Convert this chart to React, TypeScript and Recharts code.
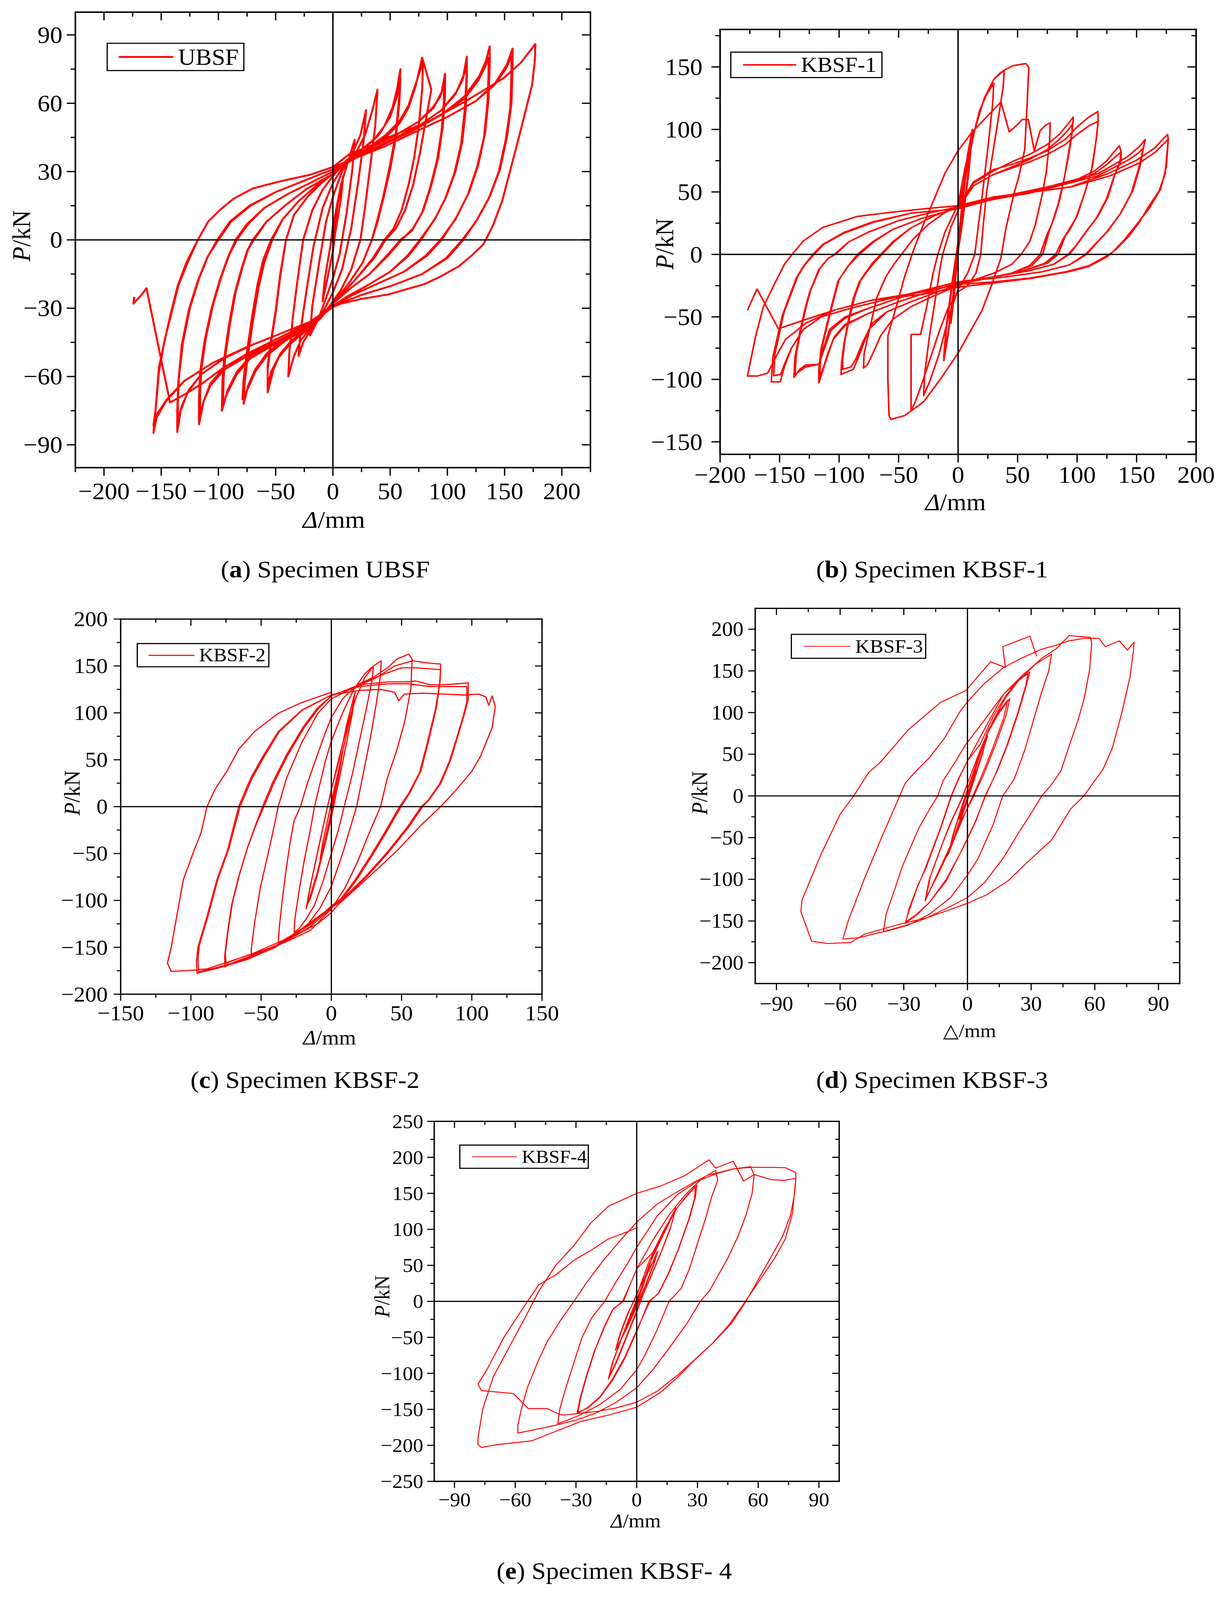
import React from 'react';
import { LineChart, Line, XAxis, YAxis, ReferenceLine, Legend } from 'recharts';

type Pt = [number, number];

// ---------------- (a) UBSF ----------------
const ubsfSmall: Pt[] = [
  [0,0],[4,15],[9,28],[7,18],[2,3],[0,-5],[-4,-15],[-9,-27],[-7,-17],[-2,-2],[0,6],
  [7,24],[13,34],[19,44],[17,31],[12,12],[6,-6],[0,-17],[-7,-27],[-13,-35],[-20,-42],[-18,-29],[-12,-10],[-6,8],[0,19],
  [8,30],[16,37],[24,46],[29,57],[27,44],[22,25],[16,5],[8,-13],[0,-23],[-10,-33],[-20,-40],[-26,-45],[-30,-51],[-28,-39],[-23,-22],[-17,-3],[-9,14],[0,25],
];
const ubsf40: Pt[] = [
  [10,33],[20,38],[28,46],[34,56],[39,66],[37,50],[32,30],[28,14],[24,0],[16,-13],[7,-22],[0,-27],[-10,-34],[-20,-39],[-28,-44],[-34,-51],[-39,-60],[-38,-49],[-35,-34],[-31,-18],[-26,0],[-18,13],[-9,22],[0,28],
];
const ubsf60: Pt[] = [
  [12,35],[24,39],[36,44],[45,50],[52,58],[56,66],[59,75],[58,63],[55,47],[50,33],[44,19],[39,9],[34,0],[26,-10],[14,-19],[0,-28],[-12,-35],[-24,-40],[-36,-44],[-46,-50],[-52,-57],[-57,-67],[-57,-57],[-54,-45],[-50,-32],[-46,-16],[-41,0],[-34,11],[-22,19],[-10,25],[0,29],
];
const ubsf60b: Pt[] = [
  [12,35],[26,40],[40,46],[50,54],[56,63],[59,71],[58,60],[55,45],[50,31],[44,18],[39,8],[34,0],[26,-10],[14,-19],[0,-28],[-12,-35],[-26,-41],[-38,-46],[-48,-52],[-54,-58],[-57,-64],[-57,-55],[-54,-44],[-50,-31],[-46,-15],[-41,0],[-34,11],[-22,19],[-10,25],[0,29],
];
const ubsf80: Pt[] = [
  [14,35],[30,40],[46,45],[58,51],[66,58],[72,67],[78,80],[86,66],[81,52],[76,38],[70,24],[63,13],[55,5],[46,0],[36,-8],[22,-16],[8,-24],[0,-28],[-14,-35],[-30,-40],[-46,-45],[-58,-50],[-68,-57],[-74,-64],[-78,-72],[-77,-62],[-74,-50],[-70,-36],[-65,-21],[-60,-10],[-53,0],[-44,9],[-30,17],[-14,24],[0,29],
];
const ubsf80b: Pt[] = [
  [14,35],[30,40],[46,46],[58,52],[66,59],[72,68],[78.7,78],[78,66],[75,50],[71,36],[66,24],[60,13],[53,5],[45,0],[35,-8],[22,-16],[8,-24],[0,-28],[-14,-35],[-30,-40],[-46,-46],[-58,-51],[-68,-58],[-74,-65],[-79,-70],[-78,-61],[-75,-49],[-71,-35],[-66,-20],[-61,-9],[-54,0],[-44,9],[-30,17],[-14,24],[0,29],
];
const ubsf100: Pt[] = [
  [15,35],[35,41],[55,46],[75,52],[88,58],[95,65],[98,73],[98,64],[96,50],[92,36],[86,24],[79,13],[70,5],[60,0],[48,-7],[32,-15],[16,-21],[0,-28],[-15,-35],[-35,-41],[-55,-46],[-72,-51],[-84,-58],[-92,-66],[-97,-75],[-96.5,-62],[-95,-52],[-91,-38],[-86,-24],[-80,-13],[-75,-5],[-70,0],[-58,8],[-42,15],[-24,22],[0,29],
];
const ubsf100b: Pt[] = [
  [15,35],[35,41],[55,46],[75,52],[87,58],[94,63],[97,69],[97,61],[95,48],[91,35],[85,23],[78,12],[69,4],[59,0],[47,-7],[32,-15],[16,-21],[0,-28],[-15,-35],[-35,-41],[-55,-47],[-72,-52],[-84,-59],[-92,-67],[-96,-72],[-95.5,-61],[-94,-51],[-90,-37],[-85,-23],[-79,-12],[-74,-4],[-69,0],[-58,8],[-42,15],[-24,22],[0,29],
];
const ubsf120: Pt[] = [
  [15,35],[35,40],[55,45],[75,50],[95,57],[108,65],[114,72],[117,80.5],[117,71],[116,57],[113,43],[107,30],[99,19],[90,10],[77,0],[66,-7],[50,-14],[30,-20],[12,-25],[0,-29],[-15,-35],[-35,-40],[-55,-45],[-75,-50],[-95,-56],[-107,-63],[-113,-71],[-117,-81],[-117,-70],[-116,-58],[-112,-44],[-106,-30],[-99,-18],[-92,-8],[-85,0],[-75,7],[-60,14],[-40,20],[-20,25],[0,30],
];
const ubsf120b: Pt[] = [
  [15,35],[35,40],[55,45],[75,50],[95,57],[107,64],[113,70],[117,77],[116.5,69],[115,56],[112,42],[106,29],[98,18],[89,9],[76,0],[65,-7],[50,-14],[30,-20],[12,-25],[0,-29],[-15,-35],[-35,-40],[-55,-45],[-75,-51],[-95,-57],[-107,-64],[-113,-71],[-116,-77],[-116,-68],[-115,-57],[-111,-43],[-105,-29],[-98,-17],[-91,-7],[-84,0],[-74,7],[-60,14],[-40,20],[-20,25],[0,30],
];
const ubsf140: Pt[] = [
  [20,36],[45,42],[70,48],[95,55],[115,63],[128,72],[134,79],[137,85],[137,77],[136,62],[133,47],[127,33],[119,21],[108,10],[95,0],[82,-7],[62,-14],[40,-19],[18,-24],[0,-29],[-20,-36],[-45,-41],[-70,-46],[-95,-52],[-115,-59],[-127,-67],[-133,-75],[-136,-84.4],[-136,-75],[-135,-62],[-132,-46],[-126,-31],[-118,-18],[-110,-8],[-101,0],[-90,8],[-73,15],[-50,21],[-25,26],[0,31],
];
const ubsf140b: Pt[] = [
  [20,36],[45,42],[70,48],[95,55],[115,62],[127,70],[133,76],[136,80],[136,73],[135,60],[132,45],[126,32],[118,20],[107,9],[94,0],[81,-7],[62,-14],[40,-19],[18,-24],[0,-29],[-20,-36],[-45,-41],[-70,-46],[-95,-52],[-115,-59],[-126,-66],[-132,-73],[-135.5,-79],[-135.5,-72],[-134.5,-60],[-131,-45],[-125,-30],[-117,-17],[-109,-7],[-100,0],[-89,8],[-72,15],[-50,21],[-25,26],[0,31],
];
const ubsf160: Pt[] = [
  [20,36],[45,41],[70,47],[100,54],[125,61],[142,69],[152,77],[157,84],[157,76],[156,60],[152,45],[146,31],[137,19],[126,9],[114,0],[100,-8],[78,-15],[52,-20],[26,-24],[0,-29],[-20,-36],[-45,-41],[-75,-47],[-105,-54],[-130,-62],[-146,-71],[-154,-78],[-156.8,-84.8],[-155.5,-78],[-152,-58],[-147,-44],[-141,-32],[-135,-20],[-127,-10],[-118,0],[-109,8],[-99,13],[-87,18],[-70,22.6],[-47,25.6],[-20,28.6],[0,32],
];
const ubsf160b: Pt[] = [
  [20,36],[45,41],[70,47],[100,54],[125,61],[141,68],[151,75],[156,80.6],[156,73],[155,58],[151,44],[145,30],[136,18],[125,8],[113,0],[99,-8],[78,-15],[52,-20],[26,-24],[0,-29],[-20,-36],[-45,-41],[-75,-47],[-105,-54],[-130,-62],[-145,-70],[-153,-76],[-156.8,-81.5],[-155,-75],[-152,-56],[-146,-42],[-141.5,-32],[-135.5,-20],[-128,-10],[-118,0],[-109,8],[-99,13],[-87,18],[-70,22.6],[-47,25.6],[-20,28.6],[0,32],
];
const ubsf180: Pt[] = [
  [14,37.5],[31,41],[48,45],[82,51.6],[115,60.6],[149,71],[164,77.7],[176.9,86],[176.5,79],[174,68],[169,58],[163,46],[155.6,31.8],[148,17.3],[140,6.5],[133.5,0],[131,-2.2],[120.5,-7.2],[110,-11.6],[94.7,-15.9],[79.5,-19.5],[48,-24],[24,-26],[7,-28],[0,-29.5],[-9.5,-33],[-19.6,-37.6],[-33,-42],[-53,-46.6],[-73.6,-51],[-94,-55.5],[-114,-63],[-128,-67.4],[-142.3,-71.4],[-162.9,-21.2],[-167,-24],[-174.3,-28],[-173.5,-25],
];

// ---------------- (b) KBSF-1 ----------------
const kbsf1Small: Pt[] = [
  [0,0],[3,35],[6,62],[4,40],[0,5],[-3,-30],[-6,-55],[-4,-35],[0,0],
  [4,50],[8,80],[12,100],[9,70],[4,30],[0,5],[-4,-30],[-8,-60],[-12,-82],[-10,-58],[-5,-22],[0,10],
  [5,55],[9,85],[12,98],[9,66],[4,28],[0,2],[-4,-32],[-8,-62],[-12,-85],[-10,-60],[-5,-25],[0,8],
  [6,60],[12,92],[18,115],[24,128],[30,137],[29,120],[25,85],[20,45],[16,15],[14,0],[8,-15],[0,-28],[-8,-50],[-16,-80],[-24,-102],[-29,-113],[-28,-95],[-24,-65],[-19,-35],[-15,-10],[-13,0],[-6,22],[0,35],
];
const kbsf1Mid: Pt[] = [
  [6,62],[14,100],[22,125],[30,140],[35,145],[38.7,147],[38,135],[34,110],[29,80],[24,50],[21,22],[19,0],[15,-15],[8,-25],[0,-30],[-8,-42],[-16,-62],[-24,-85],[-31,-105],[-36,-118],[-39.5,-125],[-39.5,-100],[-39.5,-64],[-31.5,-64],[-26,-40],[-21,-15],[-17,0],[-11,18],[-5,30],[0,40],
  [6,70],[14,100],[22,125],[30,140],[38,147],[46,151],[52,152],[57,152.7],[59.4,149.7],[58,120],[56,84],[51,62],[47,49],[40,20],[36,-3],[28,-25],[20,-45],[10,-62],[0,-79],[-15,-100],[-29,-118],[-45,-129],[-56.5,-132],[-58,-129],[-59,-100],[-59,-65],[-52,-42],[-45,-18],[-38,2],[-30,22],[-22,40],[-11,65],[0,83],[11,97],[22,108],[30,116],[36,122],[43,98],[50,104],[54,108],[59,108],[64,83],[69,99],[73,103],[77.4,105.4],
];
const kbsf1L78: Pt[] = [
  [77,92],[74,65],[70,45],[65,24],[60,10],[53,0],[45,-8],[30,-15],[15,-20],[0,-25],[-20,-33],[-40,-42],[-55,-52],[-65,-65],[-72,-80],[-76,-88],[-79.5,-91],[-79,-80],[-76.6,-69],[-72,-50],[-68.5,-35],[-64,-25],[-60.5,-17.6],[-54,-8],[-47.6,0],[-38,12],[-25,24],[-12,33],[0,39],
];
const kbsf1L97: Pt[] = [
  [13,57],[30,67],[45,74],[60,80],[75,88],[85,96],[92,104],[96.8,109.9],[96,100],[94,88],[90,65],[85.5,44],[81,30],[77,20],[71,0],[62,-9],[45,-15],[25,-19],[0,-24],[-20,-31],[-40,-38],[-60,-46],[-75,-60],[-82,-78],[-88,-92],[-98.4,-96],[-98,-88],[-96,-72],[-92,-52],[-88,-35],[-83,-22],[-78,-15],[-72,-7],[-65,0],[-55,10],[-40,21],[-20,31],[0,38],
  [13,55],[30,64],[45,70],[60,76],[75,84],[85,92],[92,99],[96,104],[95.5,95],[93,80],[89,60],[84,40],[79,25],[74,14],[69,0],[60,-9],[45,-15],[25,-19],[0,-24],[-20,-31],[-40,-38],[-60,-46],[-72,-55],[-80,-70],[-86,-84],[-90,-90],[-97,-92],[-97,-84],[-95,-68],[-91,-50],[-87,-34],[-82,-21],[-76,-13],[-70,-6],[-64,0],[-54,10],[-40,21],[-20,31],[0,38],
];
const kbsf1L118: Pt[] = [
  [13,58],[30,68],[45,72],[60,77],[75,83],[90,92],[100,102],[110,110],[117.4,114.3],[117.7,106.5],[116,91.6],[113,71],[107,51],[100,30.8],[94,20],[90,14.6],[84,0],[75,-7],[55,-13],[30,-18],[0,-23],[-25,-30],[-50,-38],[-75,-47],[-95,-57],[-105,-68],[-110,-82],[-114,-94],[-117,-102.7],[-117,-92],[-115,-75],[-110,-55],[-106,-40],[-101,-21.6],[-93,-10],[-84.7,0],[-72,10],[-55,20],[-30,29],[0,37],
  [13,55],[30,64],[45,69],[60,74],[75,80],[90,88],[100,96],[110,103],[117.7,106.5],[116.5,95],[115,85],[112,67],[106,48],[99,29],[92,18],[88,12],[82,0],[73,-7],[55,-13],[30,-18],[0,-23],[-25,-30],[-50,-38],[-75,-47],[-95,-56],[-104,-66],[-109,-78],[-113,-90],[-116,-98],[-116,-89],[-114,-73],[-109,-53],[-105,-38],[-100,-20],[-92,-9],[-83,0],[-71,10],[-55,20],[-30,29],[0,37],
];
const kbsf1L137: Pt[] = [
  [25,44],[50,49],[75,54],[100,60],[115,67],[125,75],[131,82],[135.5,86.9],[137,82],[137,75],[132,64.6],[125.8,45.7],[117.7,30.8],[106,16],[100,8],[93.5,0],[80,-8],[60,-13],[30,-18],[0,-22],[-25,-28],[-50,-35],[-75,-43],[-95,-50],[-108,-60],[-113,-75],[-117,-88],[-128,-88.5],[-133,-92],[-138,-98.4],[-137,-82],[-133,-62],[-129,-45],[-125,-31],[-117,-12],[-110,-4],[-104,0],[-92,10],[-75,18],[-50,27],[-25,33],[0,38],
  [25,43],[50,48],[75,53],[100,59],[115,65],[125,72],[132,78],[137,82],[136,74],[131,62],[124.5,44],[116.5,29.5],[105,15],[99,7],[92.5,0],[80,-8],[60,-13],[30,-18],[0,-22],[-25,-28],[-50,-35],[-75,-43],[-95,-51],[-107,-61],[-113,-77],[-117,-88],[-128,-90],[-134,-94],[-137,-96],[-136,-80],[-132,-60],[-128,-43],[-124,-29],[-116,-11],[-109,-3],[-103,0],[-92,10],[-75,18],[-50,27],[-25,33],[0,38],
];
const kbsf1L157: Pt[] = [
  [29,45],[60,50],[85,56.5],[117.7,64.6],[142,78],[152,86],[157.3,91.9],[155.6,84.9],[153,71],[146.8,51],[137,33.5],[125.8,18.6],[117.7,10.5],[108,0],[93.5,-8.4],[70,-14],[40,-18],[0,-22],[-30,-29],[-60,-36],[-90,-43],[-115,-50],[-130,-60],[-140,-75],[-146,-90],[-149.5,-102],[-157,-102],[-155.6,-82],[-147.6,-48.6],[-136,-19],[-130,-9.5],[-122,0],[-113.7,8],[-96,17.6],[-71.8,26],[-39.5,33],[0,36.5],
  [29,44],[60,49],[85,55],[117.7,63],[142,75],[150,80],[155.6,84.9],[154,78],[151.5,68],[145.5,49],[136,32],[124.5,17.5],[116.5,9.5],[107,0],[93.5,-8.4],[70,-14],[40,-18],[0,-22],[-30,-29],[-60,-36],[-90,-43],[-115,-50],[-130,-60],[-140,-75],[-146,-88],[-149,-96],[-155,-97],[-154,-80],[-146.5,-47],[-135,-18],[-129,-8.5],[-121,0],[-113,8],[-96,17],[-71.8,25.5],[-39.5,33],[0,36.5],
];
const kbsf1L177: Pt[] = [
  [29,45.7],[61,49.7],[93.5,53.8],[125.8,64.6],[150,75.4],[165,85],[176,96],[176.6,92.3],[174,64.6],[169,51],[159.7,37.6],[153,26.8],[143.5,14.6],[133.9,5.1],[127.4,0],[125.8,-1.6],[109.7,-9.7],[93.5,-13.8],[61.3,-19.2],[29,-23],[1.6,-26],[-30,-32],[-72,-36.5],[-104,-44.6],[-128,-55],[-145,-68],[-152,-80],[-160,-95],[-168.5,-97.3],[-177,-97.3],[-175,-88],[-170,-65],[-163.7,-42],[-155,-25],[-146,-8],[-139.5,0],[-130,10.8],[-113.7,21.6],[-84.7,30.4],[-55.6,33.8],[-23,37],[0,39],
  [30,46],[62,50],[95,54],[128,63],[152,73],[166,82],[176.6,92.3],[175,70],[170,52],[160,36],[150,24],[140,12],[130,2],[127,0],[110,-9],[90,-14],[60,-19],[30,-22],[0,-24],[-30,-30],[-72,-36.5],[-104,-44.6],[-130,-52.7],[-151,-59.5],[-169,-27.7],[-177,-44.6],
];

// ---------------- (c) KBSF-2 ----------------
const kbsf2Small: Pt[] = [
  [0,0],[4,30],[8,58],[6,40],[2,10],[0,-5],[-4,-32],[-8,-56],[-6,-38],[-2,-10],[0,5],
  [5,38],[10,72],[15,105],[17,123],[15,100],[10,62],[5,25],[0,-10],[-5,-40],[-10,-70],[-15,-95],[-18,-109],[-15,-85],[-10,-50],[-5,-15],[0,18],
  [6,52],[11,88],[16.5,120],[14.5,96],[9.5,58],[4.5,22],[0,-12],[-5,-43],[-10,-73],[-14.5,-96],[-17.5,-106],[-14.5,-82],[-9.5,-47],[-4.5,-12],[0,18],
  [6,55],[12,90],[18,118],[24,138],[30,150],[29,135],[25,105],[20,70],[15,35],[10,5],[5,-25],[0,-50],[-6,-80],[-12,-105],[-18,-120],[-23,-130],[-26.5,-134],[-26,-120],[-23,-90],[-19,-55],[-15,-25],[-12,0],[-8,25],[-4,50],[0,70],
];
const kbsf2Mid: Pt[] = [
  [8,100],[16,125],[24,142],[30,150],[35.5,155.5],[35,140],[32,110],[28,75],[24,45],[20,15],[18,0],[14,-20],[8,-50],[0,-85],[-8,-108],[-16,-124],[-26,-137],[-33,-143],[-37.8,-146],[-37,-128],[-35,-100],[-32,-65],[-29,-35],[-26.5,-15],[-22,0],[-17,25],[-10,55],[-4,80],[0,95],
  [8,115],[18.6,130],[30,138],[40,148],[46.8,157.5],[55,162.5],[57.5,157.5],[56.7,126.6],[52.4,91.8],[46.8,61],[39.8,30],[35,0],[27,-28],[18.6,-59],[10,-86],[0,-109],[-15,-132],[-32,-144],[-49,-153.6],[-57,-159],[-57,-152],[-54.7,-124.6],[-50.5,-86],[-43.4,-39.6],[-37.8,0],[-32,30],[-21,68.6],[-9.6,99.5],[0,115],
];
const kbsf2L78: Pt[] = [
  [13,124.6],[32.7,138],[45,150],[58,155.5],[70,153],[77.8,152],[77.5,135],[75,107],[69,68.6],[63.7,37.7],[56,15],[49.6,0],[40,-25],[30,-50],[18,-78],[8,-98],[0,-108],[-15,-128],[-35,-145],[-55,-158],[-68,-165],[-75.8,-171],[-76,-160],[-74,-135],[-71,-105],[-66,-75],[-60,-45],[-54,-20],[-49,0],[-42,25],[-32,55],[-20,85],[-10,105],[0,118],
  [20,130],[35,140],[50,148],[60,148],[70,147],[77.8,146],[77,130],[74,103],[68,66],[62.7,36],[55,14],[48.6,0],[39,-25],[29,-50],[17,-78],[7,-98],[0,-106],[-15,-126],[-35,-143],[-55,-156],[-68,-163],[-75,-167],[-75.5,-157],[-73.5,-132],[-70.5,-103],[-65.5,-73],[-59.5,-43],[-53.5,-19],[-48,0],[-41,25],[-31,55],[-19,85],[-9,105],[0,118],
];
const kbsf2L97: Pt[] = [
  [20,130],[40,133],[55,133],[60,134],[70,130],[80,130],[90,131],[97.5,132],[97.5,115],[95,100],[90,75],[85,50],[78,25],[70,8],[65,0],[55,-22],[40,-50],[25,-75],[10,-97],[0,-108],[-20,-130],[-40,-150],[-60,-163],[-80,-172],[-95.6,-177.6],[-96,-165],[-95,-150],[-88.5,-117],[-81.5,-78],[-74,-47],[-66,0],[-57.5,30],[-49,53],[-37.8,80],[-21,103],[0,119],
  [20,128],[40,131],[55,131],[70,128],[85,128],[96.5,128],[96.5,112],[94,97],[89,72],[84,48],[77,24],[69,7],[64,0],[54,-22],[39,-50],[24,-75],[9,-97],[0,-107],[-20,-129],[-40,-149],[-60,-162],[-80,-171],[-94.5,-176],[-95,-163],[-94,-148],[-87.5,-115],[-80.5,-76],[-73,-45],[-65,0],[-56.5,30],[-48,53],[-37,80],[-20.5,103],[0,119],
];
const kbsf2L115: Pt[] = [
  [20,124],[35,125],[45,122],[48,113],[52,120],[65,121],[80,120],[95,119],[105,120],[110,117],[112,108],[114.5,118],[116.7,107],[114.5,84],[106,53],[100,37.7],[89,18],[77.8,0],[63.7,-20],[46.8,-47],[32.7,-66.7],[18.6,-86],[4.5,-105],[0,-113],[-9.6,-124.6],[-23.7,-136],[-37.8,-148],[-60,-159],[-88.5,-173],[-104,-175],[-114,-175.6],[-116.7,-167],[-114,-150],[-111,-124.6],[-105.4,-78],[-97.8,-47],[-92.8,-28],[-88.5,0],[-83,18],[-74.4,37.7],[-66,61],[-54.7,80],[-37.8,99.5],[-21,111],[0,122],
];

// ---------------- (d) KBSF-3 ----------------
const kbsf3Small: Pt[] = [
  [0,0],[2,15],[4,30],[3,20],[0,-3],[-2,-15],[-4,-28],[-3,-18],[0,3],
  [3,25],[6,50],[9,70],[7,50],[3,18],[0,-5],[-3,-28],[-6,-50],[-9,-70],[-7,-48],[-3,-15],[0,8],
  [4,35],[8,64],[9.5,72],[7,52],[3,20],[0,-2],[-4,-32],[-8,-62],[-9.5,-72],[-7,-50],[-3,-16],[0,8],
  [5,45],[10,78],[15,100],[20,117],[18,95],[13,60],[8,28],[3,0],[-3,-30],[-9,-65],[-15,-98],[-20,-126],[-18,-100],[-13,-65],[-8,-32],[-3,-5],[0,15],
  [5,48],[10,80],[15,102],[19,115],[17,93],[12,58],[7,26],[2.5,0],[-3,-32],[-9,-68],[-15,-100],[-19.5,-122],[-17.5,-97],[-12.5,-62],[-7.5,-30],[-2.5,-3],[0,15],
];
const kbsf3L30: Pt[] = [
  [6,55],[12,90],[18,118],[24,138],[29.4,149],[28,135],[24,100],[19,62],[14,30],[8.3,0],[4,-30],[-2,-62],[-10,-100],[-18,-128],[-24,-143],[-29.4,-153],[-28,-141.6],[-24,-112],[-20.4,-90],[-12.8,-39],[-7.7,0],[-4,22],[0,42],
  [6,62],[12,95],[18,120],[24,140],[28.5,146],[27.5,133],[23.5,98],[18.5,60],[13.5,28],[8.5,0],[3.5,-32],[-2.5,-64],[-10,-102],[-18,-128],[-24,-142],[-29,-151],[-27.5,-135],[-23.5,-108],[-19.5,-86],[-12.5,-38],[-7.5,0],[-3.5,24],[0,42],
];
const kbsf3L40: Pt[] = [
  [8,80],[17,122],[26,143],[32,158],[39.6,170],[38.3,150],[35,125],[31,90],[27,55],[22,20],[16.6,0],[12,-35],[5,-75],[0,-95],[-8,-122],[-18,-142],[-28,-155],[-35,-160],[-39.6,-163],[-38.3,-141.6],[-34,-110],[-30.7,-84.6],[-23,-39],[-17.9,-16],[-14,0],[-11.5,18],[-5.1,43.6],[-1,61],[8,91],[17,122],[26,145],[35,165],[42,177],[47.9,192.3],[58,190.3],[58.5,183],[57.6,152],[55,117],[52,90],[48.6,65],[44,30],[40,15],[35,0],[29.7,-22],[24.3,-43.5],[17,-74],[8,-104],[0,-122],[-10,-135],[-20.7,-148],[-30,-156],[-40,-163],[-51,-170],[-58.7,-171.5],
];
const kbsf3L78: Pt[] = [
  [-56.2,-150],[-48.5,-98.9],[-39.6,-44.7],[-33.2,-7.7],[-29.4,15],[-24.9,28],[-17.9,46],[-10.9,69],[-3.8,100],[0,113],[8,135],[17,154],[26,166],[35,176],[42,181],[47.7,186],[55,189],[62,189],[65,179],[71.5,186],[75.4,175],[78.5,184.6],[78.3,176],[76.6,143],[72.8,100.6],[68.3,57.8],[63.9,32],[59,15],[54.9,0],[48.5,-16],[39.6,-53],[28,-80],[19.2,-101.7],[8.9,-118.8],[0,-128.8],[-7.7,-135.9],[-19,-146],[-30.7,-153],[-48.5,-165.8],[-55,-175.8],[-65.8,-177],[-73.4,-174.4],[-78.5,-138.7],[-77.9,-124.5],[-69,-70],[-60,-22],[-53.6,0],[-46.6,28],[-40.9,40.7],[-28,79],[-12.8,112],[-0.6,126.8],[10.9,161],[17.9,154],[16.6,179],[29.4,191.7],[32.6,167.5],
];

// ---------------- (e) KBSF-4 ----------------
const kbsf4Small: Pt[] = [
  [0,0],[2,15],[4,30],[3,20],[0,-3],[-2,-15],[-4,-28],[-3,-18],[0,3],
  [4,30],[8,55],[10,68],[8,50],[4,20],[0,-5],[-4,-30],[-8,-55],[-10,-65],[-8,-45],[-4,-15],[0,10],
  [5,40],[9,60],[10.5,70],[8.5,52],[4.5,22],[0,-8],[-5,-38],[-9,-60],[-10.5,-68],[-8.5,-47],[-4.5,-17],[0,8],
  [6,55],[12,90],[19.4,129.8],[17,105],[12,68],[7,35],[3,8],[0,-15],[-5,-50],[-10,-85],[-14,-108],[-12,-85],[-8,-55],[-4,-25],[0,0],
  [6,50],[12,86],[19,126],[16.5,100],[11.5,64],[6.5,31],[2.5,5],[0,-13],[-5,-48],[-10,-83],[-13.5,-105],[-11.5,-82],[-7.5,-52],[-3.5,-22],[0,0],[3,20],
];
const kbsf4L30: Pt[] = [
  [8,65],[14,100],[20,130],[25,148],[29.7,161.5],[29,145],[26,115],[21,75],[16,40],[11,12],[6.5,0],[0,-40],[-6,-78],[-12,-108],[-18,-132],[-24,-147],[-29.5,-156],[-28,-135],[-25,-105],[-21,-70],[-16,-35],[-12,-12],[-7,0],[-3,25],[0,45],
  [8,68],[14,102],[20,130],[25,147],[29,159],[28.5,142],[25.5,112],[20.5,72],[15.5,38],[10.5,10],[6,0],[0,-42],[-6,-80],[-12,-110],[-18,-133],[-24,-148],[-29,-154],[-27.5,-132],[-24.5,-102],[-20.5,-67],[-15.5,-33],[-11.5,-10],[-6.5,0],[-3,25],[0,45],
];
const kbsf4L40: Pt[] = [
  [8,85],[16,120],[24,148],[32,170],[39,182],[40,168],[37,145],[34,115],[30,80],[26,45],[22,18],[16,0],[10,-40],[4,-75],[0,-95],[-8,-122],[-18,-143],[-28,-158],[-35,-166],[-39,-169.7],[-38,-150],[-35,-120],[-31,-85],[-27,-50],[-22,-22],[-15.8,0],[-10,28],[-4,55],[0,75],
];
const kbsf4L57: Pt[] = [
  [10,118],[20,148],[30,167],[40,178],[48,184],[56.3,187],[58,175],[57,150],[54,120],[50,90],[45,60],[40,35],[36,15],[31.4,0],[25,-30],[16,-65],[8,-95],[0,-120],[-10,-140],[-20,-155],[-30,-165],[-40,-172],[-50,-178],[-58.7,-183],[-58.7,-172],[-57,-150],[-54,-120],[-49,-85],[-44,-55],[-38,-28],[-31,0],[-25,25],[-17,55],[-8,85],[0,110],
];
const kbsf4L78: Pt[] = [
  [10,135],[20,152],[28,165],[35,175],[42,180],[47.7,184],[56,186],[65,186],[73.4,185.6],[78.6,178.8],[78.6,170.6],[77.5,140],[77,123],[73.4,86.6],[68,59.4],[61.4,32],[53.7,0],[46,-31],[37.4,-58.5],[28.8,-81],[20,-106],[11.7,-126.6],[0,-147],[-5.5,-151.5],[-14,-158],[-27.8,-167],[-36.4,-176.5],[-51.8,-193.7],[-69,-199],[-76.7,-203],[-78.4,-199],
  [-78.4,-190],[-76,-149],[-70.7,-104],[-62,-58.5],[-55,-22],[-48.4,14],[-40,50],[-31,77.6],[-22.6,109],[-14,132],[-5.5,143],[0,150],[11.7,160],[24,175],[35.7,196.5],[39,185],[47.7,194.6],[52.8,167],[58,176],[66.6,169],[72.6,168],[78.6,170.6],[78,150],[76,120],[72,90],[66,60],[60,30],[54,0],[47,-30],[38,-57],[29,-80],[20,-103],[10,-125],[0,-140],[-10,-148],[-20,-153],[-29.5,-156],[-36.4,-158],[-39,-156],[-44,-149],[-53.5,-149],[-61,-128],[-76.7,-124],[-78.4,-115],
  [-74,-95],[-65.5,-49.5],[-57,-13],[-48.4,23],[-40,36.7],[-31,57],[-22.6,70.8],[-14,86.7],[-5.5,95.7],[0.5,102.5],
];

// ---------------- ticks ----------------
const ubsfXMajor = [-200, -150, -100, -50, 0, 50, 100, 150, 200];
const ubsfXMinor = [-225, -175, -125, -75, -25, 25, 75, 125, 175, 225];
const ubsfYMajor = [-90, -60, -30, 0, 30, 60, 90];
const ubsfYMinor = [-75, -45, -15, 15, 45, 75];
const kbsf1XMajor = [-200, -150, -100, -50, 0, 50, 100, 150, 200];
const kbsf1XMinor = [-175, -125, -75, -25, 25, 75, 125, 175];
const kbsf1YMajor = [-150, -100, -50, 0, 50, 100, 150];
const kbsf1YMinor = [-125, -75, -25, 25, 75, 125, 175];
const kbsf2XMajor = [-150, -100, -50, 0, 50, 100, 150];
const kbsf2XMinor = [-125, -75, -25, 25, 75, 125];
const kbsf2YMajor = [-200, -150, -100, -50, 0, 50, 100, 150, 200];
const kbsf2YMinor = [-175, -125, -75, -25, 25, 75, 125, 175];
const kbsf34XMajor = [-90, -60, -30, 0, 30, 60, 90];
const kbsf34XMinor = [-75, -45, -15, 15, 45, 75];
const kbsf3YMajor = [-200, -150, -100, -50, 0, 50, 100, 150, 200];
const kbsf3YMinor = [-175, -125, -75, -25, 25, 75, 125, 175];
const kbsf4YMajor = [-250, -200, -150, -100, -50, 0, 50, 100, 150, 200, 250];
const kbsf4YMinor = [-225, -175, -125, -75, -25, 25, 75, 125, 175, 225];

const SERIF = '"Liberation Serif", "Times New Roman", serif';
const RED = '#ff0000';
const PAGE_W = 3137;
const PAGE_H = 4342;

const toRows = (...parts: Pt[][]) => parts.flat().map(([x, y]) => ({ x, y }));

interface Spec {
  key: string;
  rows: { x: number; y: number }[];
  left: number; top: number; pw: number; ph: number;
  xDomain: [number, number]; yDomain: [number, number];
  xMajor: number[]; xMinor: number[]; yMajor: number[]; yMinor: number[];
  tickFont: number; xLabelOff: number; yLabelGap: number;
  majorLen: number; minorLen: number; lineW: number; frameW: number;
  legend: { name: string; x: number; y: number; w: number; h: number; lineStart: number; lineLen: number; font: number };
  caption: { letter: string; text: string; cx: number; cy: number };
  yTitle: { cx: number; cy: number; font: number };
  xTitle: { cx: number; cy: number; font: number; sym: string; italic: boolean };
}

const specs: Spec[] = [
  {
    key: 'a', rows: toRows(ubsfSmall, ubsf40, ubsf60, ubsf60b, ubsf80, ubsf80b, ubsf100, ubsf100b, ubsf120, ubsf120b, ubsf140, ubsf140b, ubsf160, ubsf160b, ubsf180),
    left: 193, top: 33, pw: 1319, ph: 1236, xDomain: [-225, 225], yDomain: [-100, 100],
    xMajor: ubsfXMajor, xMinor: ubsfXMinor, yMajor: ubsfYMajor, yMinor: ubsfYMinor,
    tickFont: 64, xLabelOff: 64, yLabelGap: 33, majorLen: 22, minorLen: 12, lineW: 5, frameW: 4,
    legend: { name: 'UBSF', x: 273, y: 116, w: 353, h: 77, lineStart: 28, lineLen: 140, font: 62 },
    caption: { letter: 'a', text: ' Specimen UBSF', cx: 833, cy: 1545 },
    yTitle: { cx: 55, cy: 640, font: 66 }, xTitle: { cx: 855, cy: 1410, font: 66, sym: '\u0394', italic: true },
  },
  {
    key: 'b', rows: toRows(kbsf1Small, kbsf1Mid, kbsf1L78, kbsf1L97, kbsf1L118, kbsf1L137, kbsf1L157, kbsf1L177),
    left: 1844, top: 80, pw: 1219, ph: 1153, xDomain: [-200, 200], yDomain: [-160, 180],
    xMajor: kbsf1XMajor, xMinor: kbsf1XMinor, yMajor: kbsf1YMajor, yMinor: kbsf1YMinor,
    tickFont: 64, xLabelOff: 56, yLabelGap: 45, majorLen: 22, minorLen: 12, lineW: 4, frameW: 4,
    legend: { name: 'KBSF-1', x: 1870, y: 140, w: 390, h: 72, lineStart: 30, lineLen: 136, font: 58 },
    caption: { letter: 'b', text: ' Specimen KBSF-1', cx: 2387, cy: 1545 },
    yTitle: { cx: 1702, cy: 662, font: 66 }, xTitle: { cx: 2447, cy: 1364, font: 64, sym: '\u0394', italic: true },
  },
  {
    key: 'c', rows: toRows(kbsf2Small, kbsf2Mid, kbsf2L78, kbsf2L97, kbsf2L115),
    left: 309, top: 1680, pw: 1079, ph: 1018, xDomain: [-150, 150], yDomain: [-200, 200],
    xMajor: kbsf2XMajor, xMinor: kbsf2XMinor, yMajor: kbsf2YMajor, yMinor: kbsf2YMinor,
    tickFont: 58, xLabelOff: 51, yLabelGap: 33, majorLen: 18, minorLen: 10, lineW: 3, frameW: 3.5,
    legend: { name: 'KBSF-2', x: 350, y: 1745, w: 340, h: 66, lineStart: 27, lineLen: 118, font: 51 },
    caption: { letter: 'c', text: ' Specimen KBSF-2', cx: 781, cy: 2930 },
    yTitle: { cx: 185, cy: 2152, font: 58 }, xTitle: { cx: 844, cy: 2816, font: 56, sym: '\u0394', italic: true },
  },
  {
    key: 'd', rows: toRows(kbsf3Small, kbsf3L30, kbsf3L40, kbsf3L78),
    left: 1934, top: 1651, pw: 1087, ph: 1018, xDomain: [-100, 100], yDomain: [-225, 225],
    xMajor: kbsf34XMajor, xMinor: kbsf34XMinor, yMajor: kbsf3YMajor, yMinor: kbsf3YMinor,
    tickFont: 55, xLabelOff: 55, yLabelGap: 30, majorLen: 18, minorLen: 10, lineW: 2.6, frameW: 3.5,
    legend: { name: 'KBSF-3', x: 2025, y: 1720, w: 347, h: 68, lineStart: 30, lineLen: 120, font: 52 },
    caption: { letter: 'd', text: ' Specimen KBSF-3', cx: 2387, cy: 2930 },
    yTitle: { cx: 1793, cy: 2152, font: 56 }, xTitle: { cx: 2483, cy: 2798, font: 52, sym: '\u25B3', italic: false },
  },
  {
    key: 'e', rows: toRows(kbsf4Small, kbsf4L30, kbsf4L40, kbsf4L57, kbsf4L78),
    left: 1112, top: 3043, pw: 1037, ph: 977, xDomain: [-100, 100], yDomain: [-250, 250],
    xMajor: kbsf34XMajor, xMinor: kbsf34XMinor, yMajor: kbsf4YMajor, yMinor: kbsf4YMinor,
    tickFont: 53, xLabelOff: 50, yLabelGap: 28, majorLen: 18, minorLen: 10, lineW: 2.6, frameW: 3.5,
    legend: { name: 'KBSF-4', x: 1176, y: 3106, w: 332, h: 66, lineStart: 30, lineLen: 115, font: 50 },
    caption: { letter: 'e', text: ' Specimen KBSF- 4', cx: 1573, cy: 4263 },
    yTitle: { cx: 979, cy: 3518, font: 54 }, xTitle: { cx: 1628, cy: 4128, font: 53, sym: '\u0394', italic: true },
  },
];

const fmt = (v: number) => (v < 0 ? '\u2212' + Math.abs(v) : String(v));
const isIn = (v: number, arr: number[]) => arr.some((m) => Math.abs(m - v) < 1e-6);

function makeTick(side: 'b' | 't' | 'l' | 'r', s: Spec) {
  return (props: any) => {
    const { x, y, payload } = props;
    const v = payload.value as number;
    const major = isIn(v, side === 'b' || side === 't' ? s.xMajor : s.yMajor);
    const L = major ? s.majorLen : s.minorLen;
    const sw = s.frameW * 0.85;
    if (side === 'b') {
      return (
        <g>
          <line x1={x} y1={y} x2={x} y2={y + L} stroke="#000" strokeWidth={sw} />
          {major && (
            <text x={x} y={y + s.xLabelOff} textAnchor="middle" dominantBaseline="central" fontFamily={SERIF} fontSize={s.tickFont} fill="#000">
              {fmt(v)}
            </text>
          )}
        </g>
      );
    }
    if (side === 't') {
      return <line x1={x} y1={y} x2={x} y2={y + L} stroke="#000" strokeWidth={sw} />;
    }
    if (side === 'l') {
      return (
        <g>
          <line x1={x - L} y1={y} x2={x} y2={y} stroke="#000" strokeWidth={sw} />
          {major && (
            <text x={x - s.yLabelGap} y={y} textAnchor="end" dominantBaseline="central" fontFamily={SERIF} fontSize={s.tickFont} fill="#000">
              {fmt(v)}
            </text>
          )}
        </g>
      );
    }
    return <line x1={x} y1={y} x2={x - L} y2={y} stroke="#000" strokeWidth={sw} />;
  };
}

function Panel({ s }: { s: Spec }) {
  // each axis takes 1px, so the plot area starts exactly at (left, top)
  const pad = { top: 60, right: 80, bottom: 120, left: 190 };
  const m = { top: pad.top - 1, right: pad.right - 1, bottom: pad.bottom - 1, left: pad.left - 1 };
  const W = s.pw + pad.left + pad.right;
  const H = s.ph + pad.top + pad.bottom;
  const ox = s.left - pad.left;
  const oy = s.top - pad.top;
  const xTicks = [...s.xMajor, ...s.xMinor].sort((a, b) => a - b);
  const yTicks = [...s.yMajor, ...s.yMinor].sort((a, b) => a - b);
  const axisLine = { stroke: '#000', strokeWidth: s.frameW, strokeLinecap: 'square' as const };
  const lg = s.legend;
  const legendBox = () => (
    <div
      style={{
        boxSizing: 'border-box', width: lg.w, height: lg.h, border: '3px solid #000', background: '#fff',
        position: 'relative', fontFamily: SERIF, fontSize: lg.font, lineHeight: 1,
      }}
    >
      <div style={{ position: 'absolute', left: lg.lineStart, top: lg.h / 2 - 3 - s.lineW / 2, width: lg.lineLen, height: s.lineW, background: RED }} />
      <div style={{ position: 'absolute', left: lg.lineStart + lg.lineLen + 12, top: 0, height: lg.h - 6, display: 'flex', alignItems: 'center', color: '#000', whiteSpace: 'nowrap' }}>
        {lg.name}
      </div>
    </div>
  );
  return (
    <>
      <div style={{ position: 'absolute', left: ox, top: oy, width: W, height: H }}>
        <LineChart width={W} height={H} data={s.rows} margin={m}>
          <XAxis xAxisId="b" orientation="bottom" dataKey="x" type="number" domain={s.xDomain} allowDataOverflow ticks={xTicks} interval={0}
            height={1} tickSize={0} tickMargin={0} tickLine={false} axisLine={axisLine} tick={makeTick('b', s)} />
          <XAxis xAxisId="t" orientation="top" dataKey="x" type="number" domain={s.xDomain} allowDataOverflow ticks={xTicks} interval={0}
            height={1} tickSize={0} tickMargin={0} tickLine={false} axisLine={axisLine} tick={makeTick('t', s)} />
          <YAxis yAxisId="l" orientation="left" dataKey="y" type="number" domain={s.yDomain} allowDataOverflow ticks={yTicks} interval={0}
            width={1} tickSize={0} tickMargin={0} tickLine={false} axisLine={axisLine} tick={makeTick('l', s)} />
          <YAxis yAxisId="r" orientation="right" dataKey="y" type="number" domain={s.yDomain} allowDataOverflow ticks={yTicks} interval={0}
            width={1} tickSize={0} tickMargin={0} tickLine={false} axisLine={axisLine} tick={makeTick('r', s)} />
          <Line xAxisId="b" yAxisId="l" dataKey="y" name={lg.name} type="linear" stroke={RED} strokeWidth={s.lineW}
            strokeLinejoin="round" dot={false} activeDot={false} isAnimationActive={false} />
          <ReferenceLine xAxisId="b" yAxisId="l" x={0} stroke="#000" strokeWidth={s.frameW * 0.9} />
          <ReferenceLine xAxisId="b" yAxisId="l" y={0} stroke="#000" strokeWidth={s.frameW * 0.9} />
          <Legend layout="horizontal" verticalAlign="middle" align="center"
            wrapperStyle={{ left: lg.x - ox, top: lg.y - oy, width: 'auto', height: 'auto' }} content={legendBox} />
        </LineChart>
      </div>
      <div
        style={{
          position: 'absolute', left: s.yTitle.cx, top: s.yTitle.cy, transform: 'translate(-50%, -50%) rotate(-90deg)',
          fontFamily: SERIF, fontSize: s.yTitle.font, lineHeight: 1.2, whiteSpace: 'nowrap', color: '#000',
        }}
      >
        <i>P</i>/kN
      </div>
      <div
        style={{
          position: 'absolute', left: s.xTitle.cx, top: s.xTitle.cy, transform: 'translate(-50%, -50%)',
          fontFamily: SERIF, fontSize: s.xTitle.font, lineHeight: 1.2, whiteSpace: 'nowrap', color: '#000',
        }}
      >
        {s.xTitle.italic ? <i>{s.xTitle.sym}</i> : <span>{s.xTitle.sym}</span>}/mm
      </div>
      <div
        style={{
          position: 'absolute', left: s.caption.cx, top: s.caption.cy, transform: 'translate(-50%, -50%)',
          fontFamily: SERIF, fontSize: 66, lineHeight: 1.25, whiteSpace: 'nowrap', color: '#000',
        }}
      >
        (<b>{s.caption.letter}</b>){s.caption.text}
      </div>
    </>
  );
}

export default function App() {
  // The browser viewport can be shorter than the figure; fit the figure's height to it.
  const vh = typeof window !== 'undefined' && window.innerHeight > 0 ? window.innerHeight : PAGE_H;
  const sy = Math.min(1, vh / PAGE_H);
  return (
    <div style={{ position: 'absolute', left: 0, top: 0, width: PAGE_W, height: Math.floor(PAGE_H * sy), overflow: 'hidden', background: '#fff' }}>
      <div
        style={{
          position: 'absolute', left: 0, top: 0, width: PAGE_W, height: PAGE_H, background: '#fff',
          transform: `scale(1, ${sy})`, transformOrigin: '0 0',
        }}
      >
        {specs.map((s) => (
          <Panel key={s.key} s={s} />
        ))}
      </div>
    </div>
  );
}
